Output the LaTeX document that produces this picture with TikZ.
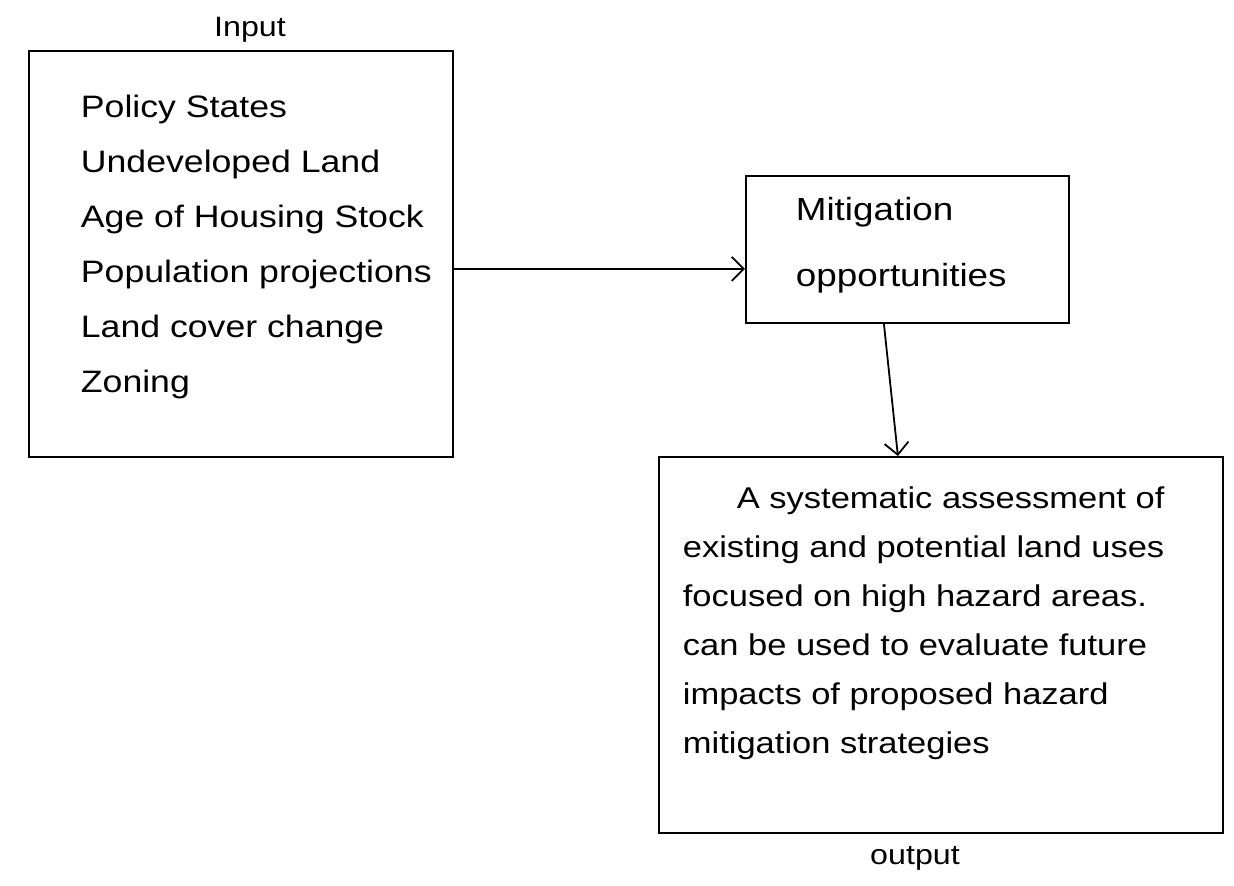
\documentclass[tikz,border=0pt]{standalone}
\usepackage{fontspec}
\setmainfont[FakeStretch=1.15]{Liberation Sans}
\usetikzlibrary{arrows.meta}
\begin{document}
\begin{tikzpicture}[x=1pt,y=-1pt,line width=1.8pt,
  box/.style={draw,rectangle,inner sep=0pt},
  hand/.style={inner sep=0pt,align=left,anchor=north west},
  lbl/.style={inner sep=0pt,font=\fontsize{28}{30}\selectfont},
  conn/.style={-{Straight Barb[length=12pt,width=24pt,line width=1.8pt]}}]
\useasboundingbox (0,0) rectangle (1234,886);
% boxes
\node[box,anchor=north west,minimum width=424pt,minimum height=406pt] (inbox) at (28,50) {};
\node[box,anchor=north west,minimum width=323pt,minimum height=147pt] (mid) at (745,175) {};
\node[box,anchor=north west,minimum width=564pt,minimum height=376pt] (out) at (658,456) {};
% box texts
\node[hand,font=\fontsize{31}{55}\selectfont] (intext) at (80,94)
  {Policy States\\Undeveloped Land\\Age of Housing Stock\\Population projections\\Land cover change\\Zoning};
\node[hand,font=\fontsize{32}{66}\selectfont] (midtext) at (795,196)
  {Mitigation\\opportunities};
\node[hand,font=\fontsize{30}{49}\selectfont] (outtext) at (682,486)
  {\hspace*{54pt}A systematic assessment of\\existing and potential land uses\\focused on high hazard areas.\\can be used to evaluate future\\impacts of proposed hazard\\mitigation strategies};
% labels
\node[lbl] (inlbl) at (250,30) {Input};
\node[lbl] (outlbl) at (915,858) {output};
% connectors
\draw[conn] ([yshift=-15pt]inbox.east) -- ([yshift=-19.5pt]mid.west);
\draw[conn] ([xshift=-23.5pt]mid.south) -- ([xshift=-43pt]out.north);
\end{tikzpicture}
\end{document}
